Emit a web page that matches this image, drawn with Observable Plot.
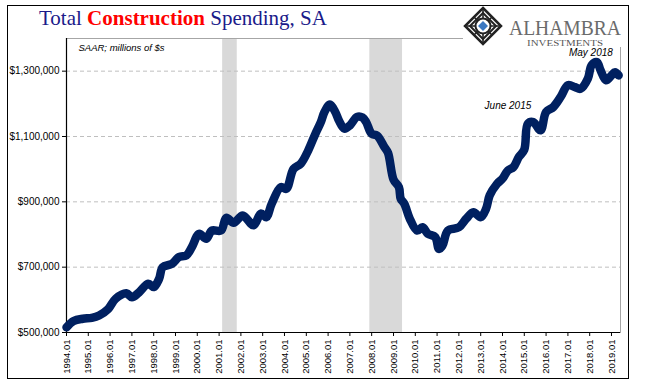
<!DOCTYPE html>
<html><head><meta charset="utf-8">
<script src="https://cdn.jsdelivr.net/npm/d3@7"></script>
<script src="https://cdn.jsdelivr.net/npm/@observablehq/plot@0.6"></script>
<style>
html,body{margin:0;padding:0;background:#fff;}
#wrap{position:relative;width:647px;height:392px;overflow:hidden;background:#fff;}
#chart{position:absolute;left:0;top:0;}
#frame{position:absolute;left:7px;top:5px;width:622px;height:374px;border:1px solid #000;box-sizing:border-box;pointer-events:none;}
#title{position:absolute;left:39px;top:8px;font-family:"Liberation Serif",serif;font-size:21px;line-height:21px;color:#1a1a8a;white-space:nowrap;}
#title b{color:#ff0000;}
#logo{position:absolute;left:463px;top:6px;width:162px;height:41px;background:#fff;}
</style>
</head><body>
<div id="wrap">
  <div id="chart"></div>
  <div id="title">Total <b>Construction</b> Spending, SA</div>
  <div id="logo">
    <svg width="162" height="41" viewBox="0 0 162 41">
      <g transform="translate(20,20)">
        <polygon points="0,-18 18,0 0,18 -18,0" fill="#fff" stroke="#222" stroke-width="2.5"/>
        <polygon points="0,-13 13,0 0,13 -13,0" fill="none" stroke="#222" stroke-width="2"/>
        <path d="M-9,-9 L9,9 M-9,9 L9,-9 M0,-16 L0,16 M-16,0 L16,0" stroke="#222" stroke-width="1.6"/>
        <circle cx="0" cy="0" r="7.5" fill="#fff" stroke="#222" stroke-width="2"/>
        <polygon points="0,-5 5,0 0,5 -5,0" fill="#3a78c2"/>
      </g>
      <text x="46" y="28.5" font-family="Liberation Serif, serif" font-size="20" fill="#6b6b6b" textLength="112" lengthAdjust="spacingAndGlyphs">ALHAMBRA</text>
      <text x="64" y="40" font-family="Liberation Serif, serif" font-size="7.5" fill="#555" textLength="76" lengthAdjust="spacingAndGlyphs">INVESTMENTS</text>
    </svg>
  </div>
  <div id="frame"></div>
</div>
<script>
const months = ["1994-01","1994-05","1994-10","1995-03","1995-07","1995-12","1996-04","1996-10","1997-01","1997-05","1997-10","1998-01","1998-04","1998-06","1998-11","1999-03","1999-07","1999-10","2000-02","2000-06","2000-09","2001-02","2001-05","2001-09","2002-02","2002-08","2002-12","2003-03","2003-06","2003-11","2004-02","2004-06","2004-10","2005-02","2005-06","2005-09","2005-11","2006-02","2006-05","2006-07","2006-10","2007-01","2007-05","2007-08","2007-10","2008-01","2008-04","2008-08","2008-10","2009-01","2009-04","2009-05","2009-07","2009-10","2010-02","2010-05","2010-08","2010-12","2011-02","2011-04","2011-07","2012-01","2012-05","2012-09","2013-01","2013-04","2013-06","2013-10","2014-01","2014-04","2014-07","2014-10","2015-01","2015-03","2015-06","2015-10","2016-01","2016-05","2016-09","2017-01","2017-05","2017-08","2017-12","2018-02","2018-05","2018-07","2018-10","2019-01","2019-03","2019-05"];
const spending = [516000,535000,542000,545000,552000,572000,603000,620000,608000,623000,649000,639000,664000,700000,710000,731000,736000,761000,802000,787000,812000,812000,851000,836000,858000,828000,864000,853000,894000,945000,940000,1001000,1017000,1057000,1108000,1144000,1175000,1198000,1175000,1149000,1124000,1134000,1160000,1158000,1144000,1108000,1103000,1068000,1050000,968000,945000,910000,894000,848000,812000,822000,802000,792000,756000,766000,812000,822000,848000,868000,853000,879000,920000,955000,971000,996000,1006000,1037000,1060000,1139000,1144000,1119000,1175000,1190000,1221000,1257000,1251000,1246000,1277000,1318000,1328000,1303000,1272000,1287000,1297000,1287000];
const recessionStart = ["2001-03","2007-12"];
const recessionEnd = ["2001-11","2009-06"];
const yTicks = [500000,700000,900000,1100000,1300000];
const xTickYears = ["1994","1995","1996","1997","1998","1999","2000","2001","2002","2003","2004","2005","2006","2007","2008","2009","2010","2011","2012","2013","2014","2015","2016","2017","2018","2019"];
const annotationMonths = ["2015-06","2018-05"];
const annotationLabels = ["June 2015","May 2018"];
const subtitle = "SAAR; millions of $s";

const pm = d3.utcParse("%Y-%m");
const data = months.map((m,i)=>({date:pm(m), value:spending[i]}));
const recessions = recessionStart.map((s,i)=>({start:pm(s), end:pm(recessionEnd[i])}));
const xTicks = xTickYears.map(y=>pm(y+"-01"));
const annots = annotationMonths.map((m,i)=>({date:pm(m), value:spending[months.indexOf(m)], label:annotationLabels[i]}));
const xDomain = [pm("1994-01"), pm("2019-06")];

const chart = Plot.plot({
  width:647, height:392,
  marginTop:38, marginLeft:66, marginRight:27, marginBottom:60,
  style:{fontFamily:"Liberation Sans, sans-serif", fontSize:"10px", color:"#000", background:"transparent"},
  x:{type:"utc", domain:xDomain},
  y:{domain:[500000,1400000]},
  marks:[
    Plot.rect(recessions,{x1:"start", x2:"end", fill:"#d9d9d9"}),
    Plot.gridY({ticks:yTicks, stroke:"#bfbfbf", strokeOpacity:1, strokeDasharray:"4,3"}),
    Plot.frame({stroke:"#a6a6a6"}),
    Plot.ruleY([500000],{stroke:"#000", strokeWidth:1.2}),
    Plot.ruleX([xDomain[0]],{stroke:"#000", strokeWidth:1.2}),
    Plot.axisY({ticks:yTicks, tickSize:4, tickPadding:3, label:null, fontSize:10, tickFormat:d=>"$"+d3.format(",")(d)}),
    Plot.axisX({ticks:xTicks, tickSize:4, tickPadding:3, label:null, tickRotate:-90, fontSize:9.5, tickFormat:d3.utcFormat("%Y.%m")}),
    Plot.line(data,{x:"date", y:"value", stroke:"#002060", strokeWidth:8.5, curve:"catmull-rom", strokeLinecap:"round", strokeLinejoin:"round"}),
    Plot.text([annots[0]],{x:"date", y:"value", text:"label", textAnchor:"end", dx:-2, dy:-16, fontStyle:"italic", fontSize:10, fill:"#000"}),
    Plot.text([annots[1]],{x:"date", y:"value", text:"label", textAnchor:"middle", dx:-6, dy:-9, fontStyle:"italic", fontSize:10, fill:"#000"}),
    Plot.text([subtitle],{frameAnchor:"top-left", dx:12, dy:9, lineAnchor:"middle", textAnchor:"start", fontStyle:"italic", fontSize:9.5, fill:"#000"})
  ]
});
document.getElementById("chart").appendChild(chart);
</script>
</body></html>
